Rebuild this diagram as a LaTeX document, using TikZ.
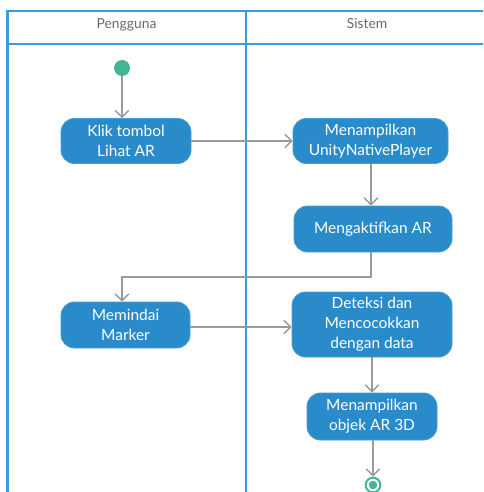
\documentclass[tikz,border=0pt]{standalone}
\usepackage{fontspec}
\setmainfont{Lato}
\usetikzlibrary{arrows.meta}
\definecolor{lane}{HTML}{3C9ADB}
\definecolor{act}{HTML}{2A8BCB}
\definecolor{flow}{HTML}{9A9A9A}
\definecolor{startc}{HTML}{45B493}
\definecolor{hdr}{HTML}{6A6A6A}
\tikzset{
  actbox/.style={draw=act!85!white, line width=0.6pt, fill=act, rounded corners=10pt, text=white,
    align=center, font=\fontsize{11.6}{15}\selectfont, inner sep=0pt},
  flowline/.style={draw=flow, line width=1.3pt, -{Straight Barb[length=5pt,width=10pt,line width=1.1pt]}},
  laneline/.style={draw=lane, line width=1.6pt},
  hdrtext/.style={text=hdr, font=\fontsize{10.4}{12}\selectfont, anchor=base}
}
\begin{document}
\begin{tikzpicture}[x=0.75pt,y=-0.75pt]
\clip (0,0) rectangle (483,492);
\fill[white] (0,0) rectangle (483,492);
% swimlanes
\draw[laneline] (7.5,500) -- (7.5,11) -- (490,11);
\draw[laneline] (7.5,44) -- (490,44);
\draw[laneline] (246,11) -- (246,500);
\node[hdrtext] (h1) at (126.5,29) {Pengguna};
\node[hdrtext] (h2) at (367,29) {Sistem};
% nodes
\node[circle, fill=startc, minimum size=12pt, inner sep=0pt] (start) at (122,68) {};
\node[actbox, minimum width=130*0.75pt, minimum height=45*0.75pt] (klik) at (126,141) {Klik tombol\\Lihat AR};
\node[actbox, minimum width=155*0.75pt, minimum height=45*0.75pt] (unity) at (370.5,141) {Menampilkan\\UnityNativePlayer};
\node[actbox, minimum width=158*0.75pt, minimum height=46*0.75pt] (aktif) at (373,229) {Mengaktifkan AR};
\node[actbox, minimum width=129*0.75pt, minimum height=46*0.75pt] (pindai) at (125.5,325) {Memindai\\Marker};
\node[actbox, minimum width=160*0.75pt, minimum height=65*0.75pt] (deteksi) at (372,324.5) {Deteksi dan\\Mencocokkan\\dengan data};
\node[actbox, minimum width=130*0.75pt, minimum height=47*0.75pt] (objek) at (372,416.5) {Menampilkan\\objek AR 3D};
\node[circle, draw=startc, line width=1.5pt, fill=white, minimum size=11pt, inner sep=0pt] (end) at (373,485) {};
\fill[startc] (end.center) circle (3.2pt);
% flows
\draw[flowline] (start) -- (start |- klik.north);
\draw[flowline] (klik) -- (unity);
\draw[flowline] (unity.south -| 371,0) -- (371,0 |- aktif.north);
\coordinate (b1) at (371,277);
\coordinate (b2) at (122,277);
\draw[flowline] (aktif.south -| b1) -- (b1) -- (b2) -- (b2 |- pindai.north);
\draw[flowline] (pindai.east |- 0,327) -- (deteksi.west |- 0,327);
\draw[flowline] (deteksi) -- (objek);
\draw[flowline] (objek.south -| end) -- (end.north);
\end{tikzpicture}
\end{document}
